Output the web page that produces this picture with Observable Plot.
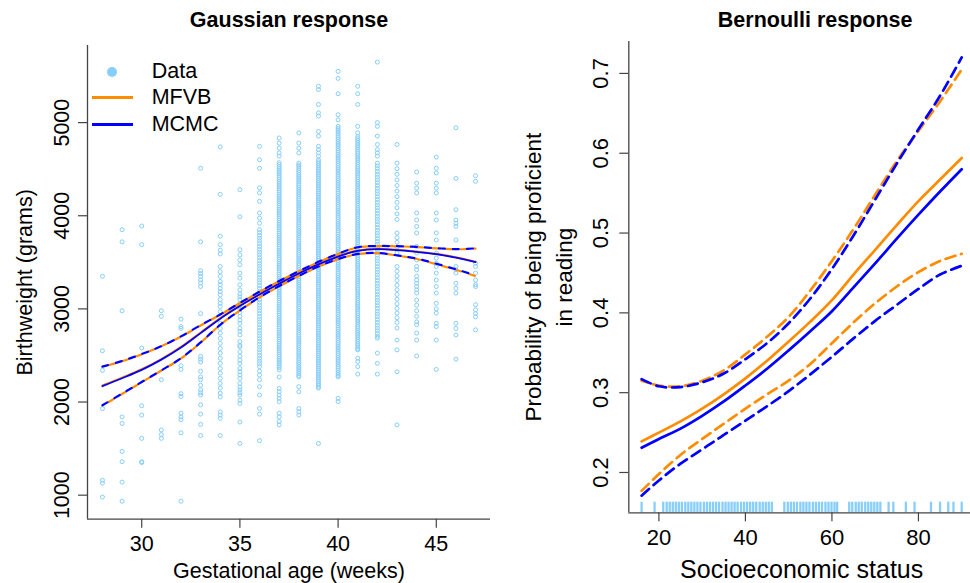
<!DOCTYPE html>
<html><head><meta charset="utf-8">
<script src="https://cdn.jsdelivr.net/npm/d3@7"></script>
<script src="https://cdn.jsdelivr.net/npm/@observablehq/plot@0.6"></script>
<style>
body{margin:0;background:#fff;}
#wrap{position:relative;width:970px;height:583px;overflow:hidden;background:#fff;font-family:"Liberation Sans",Arial,Helvetica,sans-serif;}
#left{position:absolute;left:0;top:0;width:490px;height:583px;}
#right{position:absolute;left:490px;top:0;width:480px;height:583px;overflow:hidden;}
.lg{position:absolute;font-size:21.5px;line-height:21.5px;color:#000;white-space:nowrap;}
.sw{position:absolute;}
</style></head><body>
<div id="wrap">
  <div id="left"></div>
  <div id="right"></div>
  <div id="legend"></div>
</div>
<script>
// ---------------- Left panel data: birthweight (grams) by gestational age (weeks) ----------------
const weeks = [28,29,30,31,32,33,34,35,36,37,38,39,40,41,42,43,44,45,46,47];
const w28 = [3350,2550,2340,1930,1160,1130,980];
const w29 = [3850,3720,2980,1840,1770,1470,1360,1140,935];
const w30 = [3890,3690,2580,1960,1860,1610,1360,1350];
const w31 = [2980,2920,2240,1700,1650,1610];
const w32 = [2890,2810,2790,2390,2350,2090,2060,1880,1840,1810,1670,935];
const w33 = [4510,3720,3410,3380,3350,3310,3280,3240,2950,2490,2460,2430,2330,2270,2240,2180,2130,2100,2075,1970,1870,1760,1640];
const w34 = [4740,4230,3780,3690,3630,3590,3455,3400,3350,3295,3260,3220,3185,3150,3100,3060,3025,2970,2845,2790,2740,2685,2630,2575,2525,2470,2415,2360,2310,2255,2200,2150,2095,2055,1895,1860,1825,1640];
const w35 = [4280,3990,3635,3580,3525,3475,3385,3330,3260,3205,3160,3130,3100,3060,3030,2990,2960,2920,2880,2845,2790,2760,2720,2650,2610,2595,2540,2490,2450,2415,2360,2325,2290,2255,2200,2160,2130,2100,2075,2020,1985,1785,1555];
const w36 = [4745,4600,4510,4300,4245,4155,4030,3975,3920,
  3850,3820,3790,3760,3730,3700,3670,3640,3610,3580,3550,3520,3490,3460,3430,3400,3370,3340,3310,3280,3250,3220,3190,3160,3130,3100,3070,3040,3010,2980,2950,2920,2890,2860,2830,2800,2770,2740,2710,2680,2650,2620,2590,2560,2530,2500,2470,2440,2410,2380,
  2330,2290,2240,2165,2075,1930,1870,1585];
const w37 = [4835,4780,4725,4675,4640,
  4570,4550,4530,4510,4490,4470,4450,4430,4410,4390,4370,4350,4330,4310,4290,4270,4250,4230,4210,4190,4170,4150,4130,4110,4090,4070,4050,4030,4010,3990,3970,3950,3930,3910,3890,3870,3850,3830,3810,3790,3770,3750,3730,3710,3690,3670,3650,3630,3610,3590,3570,3550,3530,3510,3490,3470,3450,3430,3410,3390,3370,3350,3330,3310,3290,3270,3250,3230,3210,3190,3170,3150,3130,3110,3090,3070,3050,3030,3010,2990,2970,2950,2930,2910,2890,2870,2850,2830,2810,2790,2770,2750,2730,2710,2690,2670,2650,2630,2610,2590,2570,2550,2530,2510,2490,2470,2450,2430,2410,2390,2370,2345,
  2270,2145,2110,2075,2040,2005,1880,1840,1790,1755];
const w38 = [4890,4780,4725,4675,
  4565,4545,4525,4505,4485,4465,4445,4425,4405,4385,4365,4345,4325,4305,4285,4265,4245,4225,4205,4185,4165,4145,4125,4105,4085,4065,4045,4025,4005,3985,3965,3945,3925,3905,3885,3865,3845,3825,3805,3785,3765,3745,3725,3705,3685,3665,3645,3625,3605,3585,3565,3545,3525,3505,3485,3465,3445,3425,3405,3385,3365,3345,3325,3305,3285,3265,3245,3225,3205,3185,3165,3145,3125,3105,3085,3065,3045,3025,3005,2985,2965,2945,2925,2905,2885,2865,2845,2825,2805,2785,2765,2745,2725,2705,2685,2665,2645,2625,2605,2585,2565,2545,2525,2505,2485,2465,2445,2425,2405,2385,2365,2345,2325,2305,2285,2270,
  2165,2110,1930,1895,1860];
const w39 = [5390,5355,5195,5105,5070,4905,4855,4745,4710,4675,4640,
  4600,4580,4560,4540,4520,4500,4480,4460,4440,4420,4400,4380,4360,4340,4320,4300,4280,4260,4240,4220,4200,4180,4160,4140,4120,4100,4080,4060,4040,4020,4000,3980,3960,3940,3920,3900,3880,3860,3840,3820,3800,3780,3760,3740,3720,3700,3680,3660,3640,3620,3600,3580,3560,3540,3520,3500,3480,3460,3440,3420,3400,3380,3360,3340,3320,3300,3280,3260,3240,3220,3200,3180,3160,3140,3120,3100,3080,3060,3040,3020,3000,2980,2960,2940,2920,2900,2880,2860,2840,2820,2800,2780,2760,2740,2720,2700,2680,2660,2640,2620,2600,2580,2560,2540,2520,2500,2480,2460,2440,2420,2400,2380,2360,2340,2320,2300,2280,2260,2240,2220,2200,2180,2160,2150,
  1555];
const w40 = [5550,5475,5310,5085,5030,
  4960,4940,4920,4900,4880,4860,4840,4820,4800,4780,4760,4740,4720,4700,4680,4660,4640,4620,4600,4580,4560,4540,4520,4500,4480,4460,4440,4420,4400,4380,4360,4340,4320,4300,4280,4260,4240,4220,4200,4180,4160,4140,4120,4100,4080,4060,4040,4020,4000,3980,3960,3940,3920,3900,3880,3860,3840,3820,3800,3780,3760,3740,3720,3700,3680,3660,3640,3620,3600,3580,3560,3540,3520,3500,3480,3460,3440,3420,3400,3380,3360,3340,3320,3300,3280,3260,3240,3220,3200,3180,3160,3140,3120,3100,3080,3060,3040,3020,3000,2980,2960,2940,2920,2900,2880,2860,2840,2820,2800,2780,2760,2740,2720,2700,2680,2660,2640,2620,2600,2580,2560,2540,2520,2500,2480,2460,2440,2420,2400,2380,2360,2340,2320,2300,2280,2270,
  2040,2005];
const w41 = [5390,5310,5195,4960,4890,
  4850,4830,4810,4790,4770,4750,4730,4710,4690,4670,4650,4630,4610,4590,4570,4550,4530,4510,4490,4470,4450,4430,4410,4390,4370,4350,4330,4310,4290,4270,4250,4230,4210,4190,4170,4150,4130,4110,4090,4070,4050,4030,4010,3990,3970,3950,3930,3910,3890,3870,3850,3830,3810,3790,3770,3750,3730,3710,3690,3670,3650,3630,3610,3590,3570,3550,3530,3510,3490,3470,3450,3430,3410,3390,3370,3350,3330,3310,3290,3270,3250,3230,3210,3190,3170,3150,3130,3110,3090,3070,3050,3030,3010,2990,2970,2950,2930,2910,2890,2870,2850,2830,2810,2790,2770,2750,2730,2710,2690,2670,2650,2630,2610,2590,2570,2560,
  2470,2435,2380,2300];
const w42 = [5650,5000,4960,4855,4765,4710,4675,4640,
  4565,4535,4505,4475,4445,4415,4385,4355,4325,4295,4265,4235,4205,4175,4145,4115,4085,4055,4025,3995,3965,3935,3905,3875,3845,3815,3785,3755,3725,3695,3665,3635,3605,3575,3545,3515,3485,3455,3425,3395,3365,3335,3305,3275,3245,3215,3185,3155,3125,3095,3065,3035,3005,2975,2945,2915,2885,2855,2825,2795,2765,2735,2705,2685,
  2525,2415,2300];
const w43 = [4765,4565,4505,4445,4385,4325,4265,4205,4145,4085,4020,3960,3815,3765,3715,3665,3600,3455,3405,3355,3305,3255,3205,3155,3105,3055,3005,2955,2905,2855,2795,2665,2560,2325,1755];
const w44 = [4470,4350,4295,4245,4030,3955,3885,3815,3670,3600,3525,3455,3420,3350,3310,3275,3240,3205,3170,3095,3040,2980,2920,2860,2830,2740,2665,2495];
const w45 = [4630,4510,4460,4350,4295,4245,4030,3955,3815,3740,3600,3545,3490,3455,3385,3310,3240,3170,3060,3000,2955,2845,2810,2665,2350];
const w46 = [4945,4400,4065,3955,3920,3885,3740,3455,3420,3385,3275,3220,3170,2845,2790,2720,2460];
const w47 = [4430,4370,3490,3455,3385,3310,3260,3240,3045,2990,2950,2915,2775];
const weekValues = [w28,w29,w30,w31,w32,w33,w34,w35,w36,w37,w38,w39,w40,w41,w42,w43,w44,w45,w46,w47];

// fitted curves (Gaussian response)
const gaussMcmcFit = [2170,2255,2345,2455,2585,2740,2895,3030,3155,3270,3380,3478,3562,3622,3642,3632,3612,3588,3550,3502];
const gaussMcmcHi  = [2380,2440,2515,2600,2705,2825,2940,3065,3185,3300,3405,3505,3592,3662,3675,3673,3666,3652,3642,3650];
const gaussMcmcLo  = [1965,2090,2215,2340,2470,2640,2830,2985,3125,3245,3355,3455,3535,3590,3600,3575,3540,3485,3425,3360];
const gaussMfvbFit = [2178,2262,2352,2462,2592,2747,2902,3037,3162,3277,3386,3484,3568,3627,3646,3636,3616,3592,3554,3506];
const gaussMfvbHi  = [2378,2438,2512,2598,2702,2822,2938,3062,3182,3298,3402,3502,3590,3660,3673,3672,3664,3650,3640,3648];
const gaussMfvbLo  = [1960,2086,2212,2338,2468,2638,2828,2983,3123,3243,3353,3453,3533,3588,3598,3572,3536,3480,3420,3352];
const birthTicks = [1000,2000,3000,4000,5000];
const gestTicks = [30,35,40,45];

// ---------------- Right panel data: Bernoulli response ----------------
const ses = [16,20,25,30,35,40,45,50,55,60,65,70,75,80,85,90];
const bernMfvbFit = [0.239,0.250,0.264,0.280,0.298,0.318,0.340,0.364,0.389,0.416,0.448,0.479,0.510,0.540,0.567,0.594];
const bernMfvbHi  = [0.315,0.309,0.308,0.315,0.328,0.348,0.370,0.395,0.428,0.465,0.505,0.548,0.590,0.628,0.665,0.705];
const bernMfvbLo  = [0.177,0.198,0.222,0.242,0.261,0.280,0.298,0.315,0.336,0.362,0.388,0.412,0.433,0.451,0.465,0.474];
const bernMcmcFit = [0.231,0.242,0.255,0.271,0.289,0.309,0.330,0.353,0.377,0.402,0.432,0.462,0.493,0.523,0.552,0.580];
const bernMcmcHi  = [0.317,0.308,0.307,0.313,0.324,0.342,0.362,0.387,0.418,0.455,0.497,0.542,0.587,0.630,0.672,0.720];
const bernMcmcLo  = [0.171,0.190,0.211,0.229,0.247,0.265,0.283,0.302,0.323,0.345,0.368,0.390,0.410,0.430,0.448,0.459];
const sesRug = [16,19,21.0,21.8,22.5,23.2,23.9,24.6,25.3,26.1,26.8,27.5,28.2,28.9,29.6,30.4,31.1,31.8,32.5,33.2,33.9,34.7,35.4,36.1,36.8,37.5,38.2,39.0,39.7,40.4,41.1,41.8,42.5,43.3,44.0,44.7,45.4,46.1,
  49.0,49.8,50.5,51.2,51.9,52.7,53.4,54.1,54.8,55.6,56.3,57.0,57.7,58.5,59.2,59.9,60.6,61.2,
  64.0,64.7,65.5,66.2,66.9,67.7,68.4,69.1,69.8,70.5,71.2,73.1,74.2,77.1,79.1,82.9,85.0,86.9,88.1,90.0];
const probTicks = [0.2,0.3,0.4,0.5,0.6,0.7];
const sesTicks = [20,40,60,80];

// ---------------- styling ----------------
const FONT = "'Liberation Sans', Arial, Helvetica, sans-serif";
const SKY = "#87CEFA", ORANGE = "#FF8C00", BLUE = "#0000FF", AX = "#444";

const birthTable = weeks.flatMap((w, i) => weekValues[i].map(v => ({week: w, bw: v})));
const gaussTable = weeks.map((w, i) => ({week: w,
  mcmcFit: gaussMcmcFit[i], mcmcHi: gaussMcmcHi[i], mcmcLo: gaussMcmcLo[i],
  mfvbFit: gaussMfvbFit[i], mfvbHi: gaussMfvbHi[i], mfvbLo: gaussMfvbLo[i]}));
const bernTable = ses.map((s, i) => ({ses: s,
  mcmcFit: bernMcmcFit[i], mcmcHi: bernMcmcHi[i], mcmcLo: bernMcmcLo[i],
  mfvbFit: bernMfvbFit[i], mfvbHi: bernMfvbHi[i], mfvbLo: bernMfvbLo[i]}));

const gx = [27.24, 47.76], gy = [742, 5828];
const left = Plot.plot({
  width: 490, height: 583,
  marginLeft: 87, marginRight: 0, marginTop: 45, marginBottom: 64.3,
  style: {fontFamily: FONT, fontSize: "21.5px", background: "transparent", color: "#000", maxWidth: "none", overflow: "visible"},
  x: {domain: gx}, y: {domain: gy},
  marks: [
    Plot.dot(birthTable, {x: "week", y: "bw", r: 2, stroke: SKY, strokeWidth: 1, fill: "none"}),
    Plot.line(gaussTable, {x: "week", y: "mfvbHi", stroke: ORANGE, strokeWidth: 2.2, strokeDasharray: "6,8", strokeDashoffset: 7, curve: "catmull-rom"}),
    Plot.line(gaussTable, {x: "week", y: "mfvbLo", stroke: ORANGE, strokeWidth: 2.2, strokeDasharray: "6,8", strokeDashoffset: 7, curve: "catmull-rom"}),
    Plot.line(gaussTable, {x: "week", y: "mfvbFit", stroke: ORANGE, strokeWidth: 2, curve: "catmull-rom"}),
    Plot.line(gaussTable, {x: "week", y: "mcmcHi", stroke: BLUE, strokeWidth: 2.2, strokeDasharray: "6,8", curve: "catmull-rom"}),
    Plot.line(gaussTable, {x: "week", y: "mcmcLo", stroke: BLUE, strokeWidth: 2.2, strokeDasharray: "6,8", curve: "catmull-rom"}),
    Plot.line(gaussTable, {x: "week", y: "mcmcFit", stroke: BLUE, strokeWidth: 1.8, curve: "catmull-rom"}),
    Plot.ruleY([gy[0]], {stroke: AX, strokeWidth: 1.3}),
    Plot.ruleX([gx[0]], {stroke: AX, strokeWidth: 1.3}),
    Plot.axisY(birthTicks, {tickSize: 9, tickPadding: 10, tickRotate: -90, tickFormat: "d", stroke: AX, strokeWidth: 1.2, label: null}),
    Plot.axisX(gestTicks, {tickSize: 9, tickPadding: 7.5, tickFormat: "d", stroke: AX, strokeWidth: 1.2, label: null}),
    Plot.text(["Gaussian response"], {frameAnchor: "top", dy: -18.3, lineAnchor: "bottom", fontWeight: "bold", fontSize: 21.5}),
    Plot.text(["Gestational age (weeks)"], {frameAnchor: "bottom", dy: 58.3, lineAnchor: "bottom", fontSize: 21.5}),
    Plot.text(["Birthweight (grams)"], {frameAnchor: "left", dx: -56, rotate: -90, lineAnchor: "bottom", textAnchor: "middle", fontSize: 21.5})
  ]
});
document.getElementById("left").appendChild(left);

const bx = [13.04, 92.96], by = [0.1495, 0.740];
const right = Plot.plot({
  width: 484, height: 583,
  marginLeft: 138.3, marginRight: 0, marginTop: 41, marginBottom: 70.7,
  style: {fontFamily: FONT, fontSize: "22px", background: "transparent", color: "#000", maxWidth: "none"},
  x: {domain: bx}, y: {domain: by},
  marks: [
    Plot.ruleX(sesRug, {x: d => d, y1: by[0], y2: by[0] + 0.0133, stroke: SKY, strokeWidth: 2.3}),
    Plot.line(bernTable, {x: "ses", y: "mfvbHi", stroke: ORANGE, strokeWidth: 2.7, strokeDasharray: "10,6", strokeDashoffset: 4, curve: "catmull-rom"}),
    Plot.line(bernTable, {x: "ses", y: "mfvbLo", stroke: ORANGE, strokeWidth: 2.7, strokeDasharray: "10,6", curve: "catmull-rom"}),
    Plot.line(bernTable, {x: "ses", y: "mfvbFit", stroke: ORANGE, strokeWidth: 2.7, curve: "catmull-rom"}),
    Plot.line(bernTable, {x: "ses", y: "mcmcHi", stroke: BLUE, strokeWidth: 2.7, strokeDasharray: "10,6", curve: "catmull-rom"}),
    Plot.line(bernTable, {x: "ses", y: "mcmcLo", stroke: BLUE, strokeWidth: 2.7, strokeDasharray: "10,6", curve: "catmull-rom"}),
    Plot.line(bernTable, {x: "ses", y: "mcmcFit", stroke: BLUE, strokeWidth: 2.7, curve: "catmull-rom"}),
    Plot.ruleY([by[0]], {stroke: AX, strokeWidth: 1.3}),
    Plot.ruleX([bx[0]], {stroke: AX, strokeWidth: 1.3}),
    Plot.axisY(probTicks, {tickSize: 9, tickPadding: 12.3, tickRotate: -90, tickFormat: ".1f", stroke: AX, strokeWidth: 1.2, label: null}),
    Plot.axisX(sesTicks, {tickSize: 9, tickPadding: 8, tickFormat: "d", stroke: AX, strokeWidth: 1.2, label: null}),
    Plot.text(["Bernoulli response"], {frameAnchor: "top", dx: 13.5, dy: -14.3, lineAnchor: "bottom", fontWeight: "bold", fontSize: 21.5}),
    Plot.text(["Socioeconomic status"], {frameAnchor: "bottom", dy: 64.7, lineAnchor: "bottom", fontSize: 25}),
    Plot.text(["Probability of being proficient\nin reading"], {frameAnchor: "left", dx: -57.3, rotate: -90, lineAnchor: "bottom", textAnchor: "middle", lineHeight: 1.34, fontSize: 22.5})
  ]
});
document.getElementById("right").appendChild(right);

// ---------------- legend (left panel) ----------------
const legendItems = [
  {label: "Data", kind: "dot", color: SKY},
  {label: "MFVB", kind: "line", color: ORANGE},
  {label: "MCMC", kind: "line", color: BLUE}
];
const lg = document.getElementById("legend");
legendItems.forEach((it, i) => {
  const cy = 71.7 + i * 26.2;
  const sw = document.createElement("div");
  sw.className = "sw";
  if (it.kind === "dot") {
    Object.assign(sw.style, {left: "107.3px", top: (cy - 5) + "px", width: "10px", height: "10px", borderRadius: "50%", background: it.color});
  } else {
    Object.assign(sw.style, {left: "91.7px", top: (cy - 1.5) + "px", width: "41px", height: "3px", background: it.color});
  }
  lg.appendChild(sw);
  const t = document.createElement("div");
  t.className = "lg";
  t.textContent = it.label;
  Object.assign(t.style, {left: "151.7px", top: (cy + 7.6 - 18.2) + "px"});
  lg.appendChild(t);
});
</script>
</body></html>
